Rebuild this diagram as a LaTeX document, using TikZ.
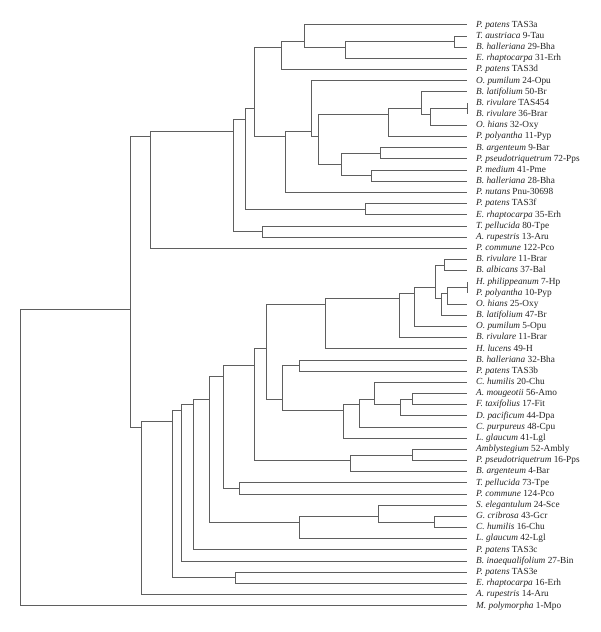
\documentclass[tikz,border=0pt]{standalone}
\usepackage{fontspec}
\setmainfont{Liberation Serif}
\usepackage{tikz}
\definecolor{branchgray}{RGB}{95,95,95}
\definecolor{labelgray}{RGB}{35,35,35}

\begin{document}
\begin{tikzpicture}[x=1pt,y=-11.17pt,
    branch/.style={draw=branchgray, line width=0.9pt},
    leaf/.style={anchor=west, inner sep=0pt, text height=6.5pt, text depth=2pt,
      font=\fontsize{9.3}{10}\selectfont, text=labelgray}]
  \useasboundingbox (0,-1.229) rectangle (600,55.35);
  % Leaves (row i, tip at x=467)
  \foreach \i/\sp/\id in {
      1/P. patens/TAS3a, 2/T. austriaca/9-Tau, 3/B. halleriana/29-Bha,
      4/E. rhaptocarpa/31-Erh, 5/P. patens/TAS3d, 6/O. pumilum/24-Opu,
      7/B. latifolium/50-Br, 8/B. rivulare/TAS454, 9/B. rivulare/36-Brar,
      10/O. hians/32-Oxy, 11/P. polyantha/11-Pyp, 12/B. argenteum/9-Bar,
      13/P. pseudotriquetrum/72-Pps, 14/P. medium/41-Pme, 15/B. halleriana/28-Bha,
      16/P. nutans/Pnu-30698, 17/P. patens/TAS3f, 18/E. rhaptocarpa/35-Erh,
      19/T. pellucida/80-Tpe, 20/A. rupestris/13-Aru, 21/P. commune/122-Pco,
      22/B. rivulare/11-Brar, 23/B. albicans/37-Bal, 24/H. philippeanum/7-Hp,
      25/P. polyantha/10-Pyp, 26/O. hians/25-Oxy, 27/B. latifolium/47-Br,
      28/O. pumilum/5-Opu, 29/B. rivulare/11-Brar, 30/H. lucens/49-H,
      31/B. halleriana/32-Bha, 32/P. patens/TAS3b, 33/C. humilis/20-Chu,
      34/A. mougeotii/56-Amo, 35/F. taxifolius/17-Fit, 36/D. pacificum/44-Dpa,
      37/C. purpureus/48-Cpu, 38/L. glaucum/41-Lgl, 39/Amblystegium/52-Ambly,
      40/P. pseudotriquetrum/16-Pps, 41/B. argenteum/4-Bar, 42/T. pellucida/73-Tpe,
      43/P. commune/124-Pco, 44/S. elegantulum/24-Sce, 45/G. cribrosa/43-Gcr,
      46/C. humilis/16-Chu, 47/L. glaucum/42-Lgl, 48/P. patens/TAS3c,
      49/B. inaequalifolium/27-Bin, 50/P. patens/TAS3e, 51/E. rhaptocarpa/16-Erh,
      52/A. rupestris/14-Aru, 53/M. polymorpha/1-Mpo} {
    \coordinate (t\i) at (467,\i);
    \node[leaf] (l\i) at (476,\i) {\textit{\sp} \id};
  }
  % Internal nodes (x = depth, y = middle of first and last row below)
  \coordinate (root) at (20.7,27);
  \coordinate (nA) at (130.3,26.5);
  % upper clade
  \coordinate (nB) at (150.3,11);
  \coordinate (nC) at (233.3,10.5);
  \coordinate (nD) at (245.3,9.5);
  \coordinate (nE) at (262.3,19.5);
  \coordinate (nF) at (254.7,8.5);
  \coordinate (nG) at (365.7,17.5);
  \coordinate (nH) at (281,3);
  \coordinate (nJ) at (304.7,2.5);
  \coordinate (nK) at (345.7,3);
  \coordinate (nL) at (454.7,2.5);
  \coordinate (nI) at (285.7,11);
  \coordinate (nM) at (311,10.5);
  \coordinate (nN) at (318.3,11);
  \coordinate (nO) at (388.5,9);
  \coordinate (nQ) at (421.7,8.5);
  \coordinate (nR) at (430,9);
  \coordinate (nS) at (467,8.5);
  \coordinate (nP) at (341.7,13.5);
  \coordinate (nT) at (380,12.5);
  \coordinate (nU) at (371,14.5);
  % lower clade
  \coordinate (nV) at (141.7,37);
  \coordinate (nW) at (172.3,36.5);
  \coordinate (nY) at (235.7,50.5);
  \coordinate (nX) at (181.7,35.5);
  \coordinate (nZ) at (193,35);
  \coordinate (nAA) at (209.3,34.5);
  \coordinate (nAC) at (299.3,45.5);
  \coordinate (nAD) at (378.3,45);
  \coordinate (nAE) at (434.3,45.5);
  \coordinate (nAB) at (223.7,32.5);
  \coordinate (nAG) at (239.3,42.5);
  \coordinate (nAF) at (254.3,31.5);
  \coordinate (nAI) at (350.7,40);
  \coordinate (nAJ) at (412.3,39.5);
  \coordinate (nAH) at (266.7,30);
  \coordinate (nAK) at (325.7,26);
  \coordinate (nAM) at (399,25.5);
  \coordinate (nAN) at (414.3,25);
  \coordinate (nAO) at (435.3,24.5);
  \coordinate (nAP) at (444.3,22.5);
  \coordinate (nAQ) at (441.7,25.5);
  \coordinate (nAR) at (447.3,25);
  \coordinate (nAS) at (467,24.5);
  \coordinate (nAL) at (282.7,34.5);
  \coordinate (nAT) at (299.3,31.5);
  \coordinate (nAU) at (343.3,35.5);
  \coordinate (nAV) at (359.3,35);
  \coordinate (nAW) at (374.5,34.5);
  \coordinate (nAY) at (400,35);
  \coordinate (nAZ) at (412.3,34.5);
  % Branches (elbow from parent to child)
  \foreach \p/\c in {root/nA, root/t53, nA/nB, nA/nV,
      nB/nC, nB/t21, nC/nD, nC/nE, nD/nF, nD/nG, nE/t19, nE/t20,
      nF/nH, nF/nI, nG/t17, nG/t18, nH/nJ, nH/t5, nJ/t1, nJ/nK,
      nK/nL, nK/t4, nL/t2, nL/t3, nI/nM, nI/t16, nM/t6, nM/nN,
      nN/nO, nN/nP, nO/nQ, nO/t11, nQ/t7, nQ/nR, nR/nS, nR/t10,
      nS/t8, nS/t9, nP/nT, nP/nU, nT/t12, nT/t13, nU/t14, nU/t15,
      nV/nW, nV/t52, nW/nX, nW/nY, nY/t50, nY/t51, nX/nZ, nX/t49,
      nZ/nAA, nZ/t48, nAA/nAB, nAA/nAC, nAC/nAD, nAC/t47,
      nAD/t44, nAD/nAE, nAE/t45, nAE/t46, nAB/nAF, nAB/nAG,
      nAG/t42, nAG/t43, nAF/nAH, nAF/nAI, nAI/nAJ, nAI/t41,
      nAJ/t39, nAJ/t40, nAH/nAK, nAH/nAL, nAK/nAM, nAK/t30,
      nAM/nAN, nAM/t29, nAN/nAO, nAN/t28, nAO/nAP, nAO/nAQ,
      nAP/t22, nAP/t23, nAQ/nAR, nAQ/t27, nAR/nAS, nAR/t26,
      nAS/t24, nAS/t25, nAL/nAT, nAL/nAU, nAT/t31, nAT/t32,
      nAU/nAV, nAU/t38, nAV/nAW, nAV/t37, nAW/t33, nAW/nAY,
      nAY/nAZ, nAY/t36, nAZ/t34, nAZ/t35}
    \draw[branch] (\p) |- (\c);
\end{tikzpicture}
\end{document}
